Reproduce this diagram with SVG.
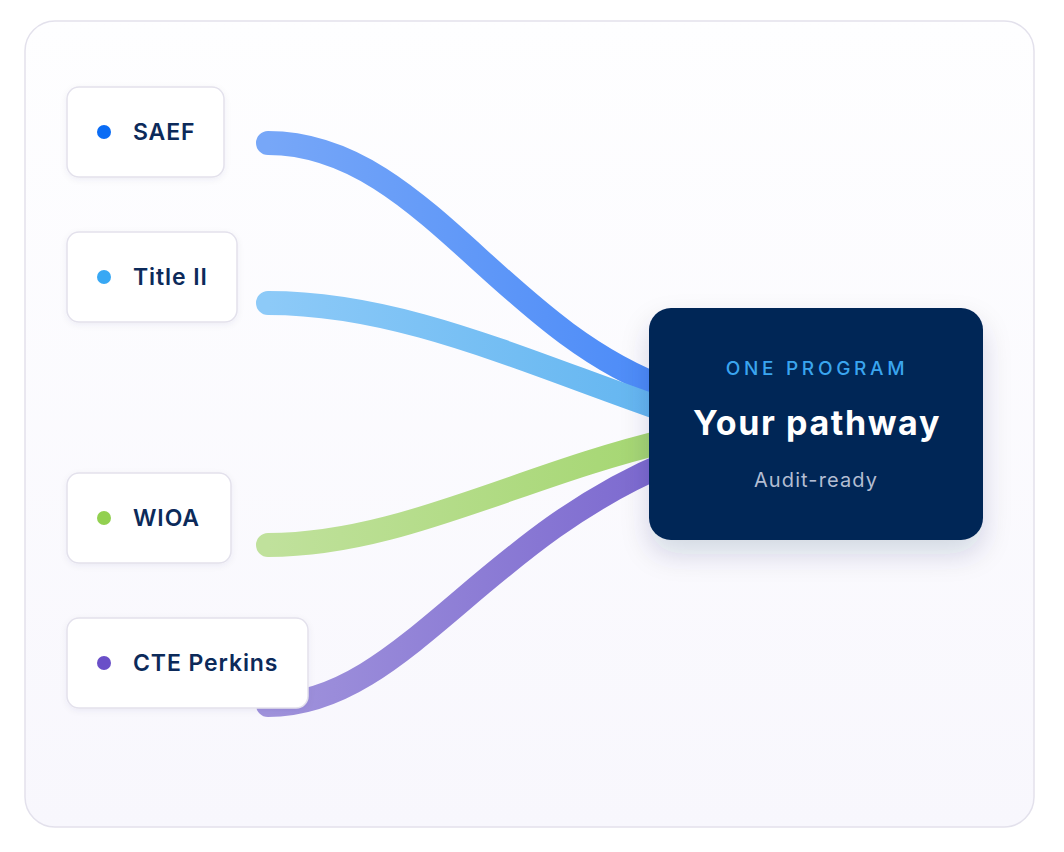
<svg xmlns="http://www.w3.org/2000/svg" width="1064" height="852" viewBox="0 0 1064 852">
<defs>
<linearGradient id="bg" x1="0" y1="0" x2="0" y2="1"><stop offset="0" stop-color="#fefeff"/><stop offset="1" stop-color="#f8f7fd"/></linearGradient>
<linearGradient id="g1" gradientUnits="userSpaceOnUse" x1="268" y1="0" x2="670" y2="0"><stop offset="0" stop-color="#77a7f8"/><stop offset="1" stop-color="#4a8af8"/></linearGradient>
<linearGradient id="g2" gradientUnits="userSpaceOnUse" x1="268" y1="0" x2="670" y2="0"><stop offset="0" stop-color="#8dcaf8"/><stop offset="1" stop-color="#62b5f0"/></linearGradient>
<linearGradient id="g3" gradientUnits="userSpaceOnUse" x1="268" y1="0" x2="670" y2="0"><stop offset="0" stop-color="#c0e19c"/><stop offset="1" stop-color="#a4d670"/></linearGradient>
<linearGradient id="g4" gradientUnits="userSpaceOnUse" x1="268" y1="0" x2="670" y2="0"><stop offset="0" stop-color="#a093dc"/><stop offset="1" stop-color="#7b68cf"/></linearGradient>
<filter id="sh" x="-20%" y="-20%" width="140%" height="150%"><feDropShadow dx="0" dy="14" stdDeviation="14" flood-color="#1a2a5a" flood-opacity="0.16"/></filter>
<filter id="nsh" x="-10%" y="-10%" width="120%" height="130%"><feDropShadow dx="0" dy="2" stdDeviation="3" flood-color="#2a2a5a" flood-opacity="0.06"/></filter>
<style>
.node rect{fill:#ffffff;stroke:#e3e1ec;stroke-width:1.5}
.lbl{font-family:Inter,"Noto Sans",sans-serif;font-size:23px;font-weight:600;letter-spacing:0.9px;fill:#0c2a5a}
.wire{fill:none;stroke-width:24;stroke-linecap:round}
</style>
</defs>
<rect x="25" y="21" width="1009" height="806" rx="30" fill="url(#bg)" stroke="#e3e1ec" stroke-width="1.5"/>
<g id="connectors">
<path class="wire" stroke="url(#g1)" d="M268,143 C420,143 500,330 670,390"/>
<path class="wire" stroke="url(#g2)" d="M268,303 C400,303 520,360 670,412"/>
<path class="wire" stroke="url(#g3)" d="M268,545 C400,545 520,475 670,440"/>
<path class="wire" stroke="url(#g4)" d="M268,705 C400,705 480,540 670,462"/>
</g>
<g id="saef" class="node"><rect x="67" y="87" width="157" height="90" rx="12" filter="url(#nsh)"/><circle cx="104" cy="132" r="7" fill="#0a6cf5"/><text class="lbl" x="133" y="140">SAEF</text></g>
<g id="title2" class="node"><rect x="67" y="232" width="170" height="90" rx="12" filter="url(#nsh)"/><circle cx="104" cy="277" r="7" fill="#38a8f4"/><text class="lbl" x="133" y="285">Title II</text></g>
<g id="wioa" class="node"><rect x="67" y="473" width="164" height="90" rx="12" filter="url(#nsh)"/><circle cx="104" cy="518" r="7" fill="#92d050"/><text class="lbl" x="133" y="526">WIOA</text></g>
<g id="cte" class="node"><rect x="67" y="618" width="241" height="90" rx="12" filter="url(#nsh)"/><circle cx="104" cy="663" r="7" fill="#6a4fc8"/><text class="lbl" x="133" y="671">CTE Perkins</text></g>
<g id="center">
<rect x="649" y="308" width="334" height="232" rx="22" fill="#002557" filter="url(#sh)"/>
<text x="817" y="375" text-anchor="middle" font-family="Inter,'Noto Sans',sans-serif" font-size="19" font-weight="500" letter-spacing="3.7" fill="#3aa5ef">ONE PROGRAM</text>
<text x="817" y="435" text-anchor="middle" font-family="Inter,'Noto Sans',sans-serif" font-size="34" font-weight="700" letter-spacing="1.6" fill="#ffffff">Your pathway</text>
<text x="816" y="487" text-anchor="middle" font-family="Inter,'Noto Sans',sans-serif" font-size="20" letter-spacing="1.1" fill="#b3bdd2">Audit-ready</text>
</g>
</svg>
